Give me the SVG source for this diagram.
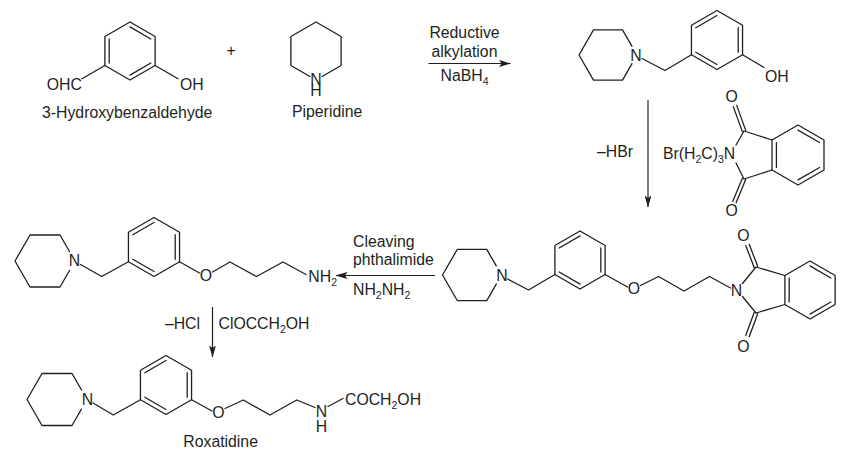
<svg xmlns="http://www.w3.org/2000/svg" width="853" height="465" viewBox="0 0 853 465">
<style>
.b{stroke:#231f20;stroke-width:1.3;fill:none;stroke-linecap:round;stroke-linejoin:round}
.a{stroke:#231f20;stroke-width:1.2;fill:none}
text{font-family:"Liberation Sans",Arial,sans-serif;font-size:15.8px;fill:#231f20}
.m{text-anchor:middle}
.e{text-anchor:end}
.s{font-size:10.5px}
</style>
<defs>
<marker id="ah" viewBox="0 0 12 8" refX="11.5" refY="4" markerWidth="12" markerHeight="8" markerUnits="userSpaceOnUse" orient="auto">
<path d="M0,0.6 L12,4 L0,7.4 L2.5,4 z" fill="#231f20"/>
</marker>
</defs>
<rect width="853" height="465" fill="#fff"/>

<g id="hydroxybenzaldehyde">
<polygon class="b" points="130,22 155.11,36.5 155.11,65.5 130,80 104.89,65.5 104.89,36.5"/>
<path class="b" d="M109.16,38.97 L109.16,63.03 M130,26.93 L150.84,38.97 M150.84,63.03 L130,75.07 M104.89,65.5 L82,78.7 M155.11,65.5 L178,78.7"/>
<text x="46.7" y="90">OHC</text>
<text x="180" y="90">OH</text>
<text x="42" y="118">3-Hydroxybenzaldehyde</text>
</g>

<g id="plus"><text class="m" x="231" y="55.6">+</text></g>

<g id="piperidine">
<polyline class="b" points="309.94,76.5 290.89,65.5 290.89,36.5 316,22 341.11,36.5 341.11,65.5 322.06,76.5"/>
<text class="m" x="316" y="85">N<tspan x="316" dy="11">H</tspan></text>
<text x="292" y="117">Piperidine</text>
</g>

<g id="benzylpiperidinol">
<polyline class="b" points="632,46.3 622.5,29.89 593.5,29.89 579,55 593.5,80.11 622.5,80.11 632,63.7"/>
<text class="m" x="636" y="60.6">N</text>
<polyline class="b" points="642,58.5 665,70.5 691.45,54.75"/>
<polygon class="b" points="717,10.5 742.55,25.25 742.55,54.75 717,69.5 691.45,54.75 691.45,25.25"/>
<path class="b" d="M695.79,27.76 L717,15.52 M738.21,27.76 L738.21,52.24 M717,64.48 L695.79,52.24 M742.55,54.75 L764,67.5"/>
<text x="765" y="81.5">OH</text>
</g>

<g id="bromopropylphthalimide">
<polygon class="b" points="772,140 798,125 824,140 824,170 798,185 772,170"/>
<path class="b" d="M776.42,142.55 L776.42,167.45 M798,130.1 L819.58,142.55 M819.58,167.45 L798,179.9"/>
<path class="b" d="M744,131 L772,140 M744,179 L772,170 M744,131 L736,145 M744,179 L736,163"/>
<path class="b" d="M745.7,130.4 L736.7,105.4 M742.3,131.6 L733.3,106.6 M745.7,179.6 L736.2,202.5 M742.3,178.4 L732.8,201.3"/>
<text class="m" x="731.7" y="102.3">O</text>
<text class="m" x="731.7" y="215.6">O</text>
<text x="663" y="158.5">Br(H<tspan class="s" dy="4">2</tspan><tspan dy="-4">C)</tspan><tspan class="s" dy="4">3</tspan><tspan dy="-4">N</tspan></text>
</g>

<g id="phthalimide-intermediate">
<polyline class="b" points="496.25,265.9 486.75,249.45 457.25,249.45 442.5,275 457.25,300.55 486.75,300.55 496.25,284.1"/>
<text class="m" x="502" y="280.6">N</text>
<polyline class="b" points="507.5,279 528.5,290 554.89,274.5"/>
<polygon class="b" points="580,231 605.11,245.5 605.11,274.5 580,289 554.89,274.5 554.89,245.5"/>
<path class="b" d="M559.16,247.97 L580,235.93 M600.84,247.97 L600.84,272.03 M580,284.07 L559.16,272.03 M605.11,274.5 L627.5,287"/>
<text class="m" x="634" y="293.6">O</text>
<polyline class="b" points="640.5,285.5 658.5,276.5 684,291 709.5,276.5 730.5,288"/>
<text class="m" x="736.5" y="295.6">N</text>
<polygon class="b" points="784.89,275.5 810,261 835.11,275.5 835.11,304.5 810,319 784.89,304.5"/>
<path class="b" d="M789.16,277.97 L789.16,302.03 M810,265.93 L830.84,277.97 M830.84,302.03 L810,314.07"/>
<path class="b" d="M756,267 L784.89,275.5 M756,313 L784.89,304.5 M756,267 L742.5,283.5 M756,313 L742.5,296.5"/>
<path class="b" d="M757.7,266.35 L749.2,244.35 M754.3,267.65 L745.8,245.65 M757.7,313.65 L749.2,336.65 M754.3,312.35 L745.8,335.35"/>
<text class="m" x="743.3" y="240.6">O</text>
<text class="m" x="743.3" y="352.3">O</text>
</g>

<g id="amine">
<polyline class="b" points="69.5,251.5 60,235.02 30,235.02 15,261 30,286.98 60,286.98 69.5,270.5"/>
<text class="m" x="74.5" y="266.2">N</text>
<polyline class="b" points="80.5,264.5 101.7,276.5 128.45,261.75"/>
<polygon class="b" points="154,217.5 179.55,232.25 179.55,261.75 154,276.5 128.45,261.75 128.45,232.25"/>
<path class="b" d="M132.79,234.76 L154,222.52 M175.21,234.76 L175.21,259.24 M154,271.48 L132.79,259.24 M179.55,261.75 L199.5,273"/>
<text class="m" x="206" y="281">O</text>
<polyline class="b" points="212.5,272 230,262 256.5,276.5 283,262 306,274.5"/>
<text x="308.3" y="281.7">NH<tspan class="s" dy="4">2</tspan></text>
</g>

<g id="roxatidine">
<polyline class="b" points="81.5,390 72,373.52 42,373.52 27,399.5 42,425.48 72,425.48 81.5,409"/>
<text class="m" x="87.5" y="405">N</text>
<polyline class="b" points="93,403 113.3,415 140.45,399.75"/>
<polygon class="b" points="166,355.5 191.55,370.25 191.55,399.75 166,414.5 140.45,399.75 140.45,370.25"/>
<path class="b" d="M144.79,372.76 L166,360.52 M187.21,372.76 L187.21,397.24 M166,409.48 L144.79,397.24 M191.55,399.75 L212,411"/>
<text class="m" x="218.5" y="417.6">O</text>
<polyline class="b" points="225,408.5 243.3,400 270,415 296.7,400 315,407.5"/>
<text class="m" x="321.5" y="416.6">N<tspan x="321.5" dy="14.9">H</tspan></text>
<path class="b" d="M328,406.5 L343,398.5"/>
<text x="345" y="405">COCH<tspan class="s" dy="4">2</tspan><tspan dy="-4">OH</tspan></text>
<text x="183.3" y="446.5">Roxatidine</text>
</g>

<g id="connectors">
<line class="a" x1="428.5" y1="63.5" x2="510.5" y2="63.5" marker-end="url(#ah)"/>
<line class="a" x1="648" y1="100" x2="648" y2="207" marker-end="url(#ah)"/>
<line class="a" x1="435" y1="275.5" x2="336" y2="275.5" marker-end="url(#ah)"/>
<line class="a" x1="212.5" y1="307" x2="212.5" y2="357" marker-end="url(#ah)"/>
<text class="m" x="464.5" y="38.3">Reductive</text>
<text class="m" x="464.5" y="56.7">alkylation</text>
<text class="m" x="464.5" y="81">NaBH<tspan class="s" dy="4">4</tspan></text>
<text class="e" x="633" y="157">–HBr</text>
<text x="353" y="246.5">Cleaving</text>
<text x="353" y="264.6">phthalimide</text>
<text x="353" y="294.5">NH<tspan class="s" dy="4">2</tspan><tspan dy="-4">NH</tspan><tspan class="s" dy="4">2</tspan></text>
<text class="e" x="200" y="328.5">–HCl</text>
<text x="218.5" y="328.5">ClOCCH<tspan class="s" dy="4">2</tspan><tspan dy="-4">OH</tspan></text>
</g>
</svg>
